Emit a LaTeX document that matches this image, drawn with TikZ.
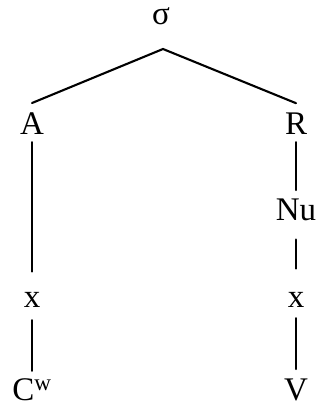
\documentclass[tikz,border=0pt]{standalone}
\usepackage{fontspec}
\setmainfont{Liberation Serif}
\usetikzlibrary{positioning}

\begin{document}
\begin{tikzpicture}[x=1pt, y=1pt,
    seg/.style={inner sep=0pt, anchor=base, font=\fontsize{33}{40}\selectfont},
    branch/.style={line width=2.1pt, line cap=round}
  ]
    \useasboundingbox (0,0) rectangle (320,-406);

    \node[seg] (syl) at (161,-25) {σ};
    \coordinate (apex) at (163,-49);
    \node[seg] (onset) at (32,-135) {A};
    \node[seg] (rhyme) at (296,-135) {R};
    \node[seg] (nucleus) at (296,-220) {Nu};
    \node[seg] (xon) at (32,-307) {x};
    \node[seg] (xnu) at (296,-307) {x};
    \node[seg] (cons) at (32,-400) {C\textsuperscript{w}};
    \node[seg] (vowel) at (296,-400) {V};

    \draw[branch] ([yshift=10pt]onset.north) -- (apex) -- ([yshift=10pt]rhyme.north);
    \draw[branch, shorten <=7pt, shorten >=20pt] (onset.south) -- (xon.north);
    \draw[branch, shorten <=7pt, shorten >=8pt] (rhyme.south) -- (nucleus.north);
    \draw[branch, shorten <=19pt, shorten >=23pt] (nucleus.south) -- (xnu.north);
    \draw[branch, shorten <=13pt, shorten >=7pt] (xon.south) -- (cons.north);
    \draw[branch, shorten <=11pt, shorten >=9pt] (xnu.south) -- (vowel.north);
  \end{tikzpicture}
\end{document}
